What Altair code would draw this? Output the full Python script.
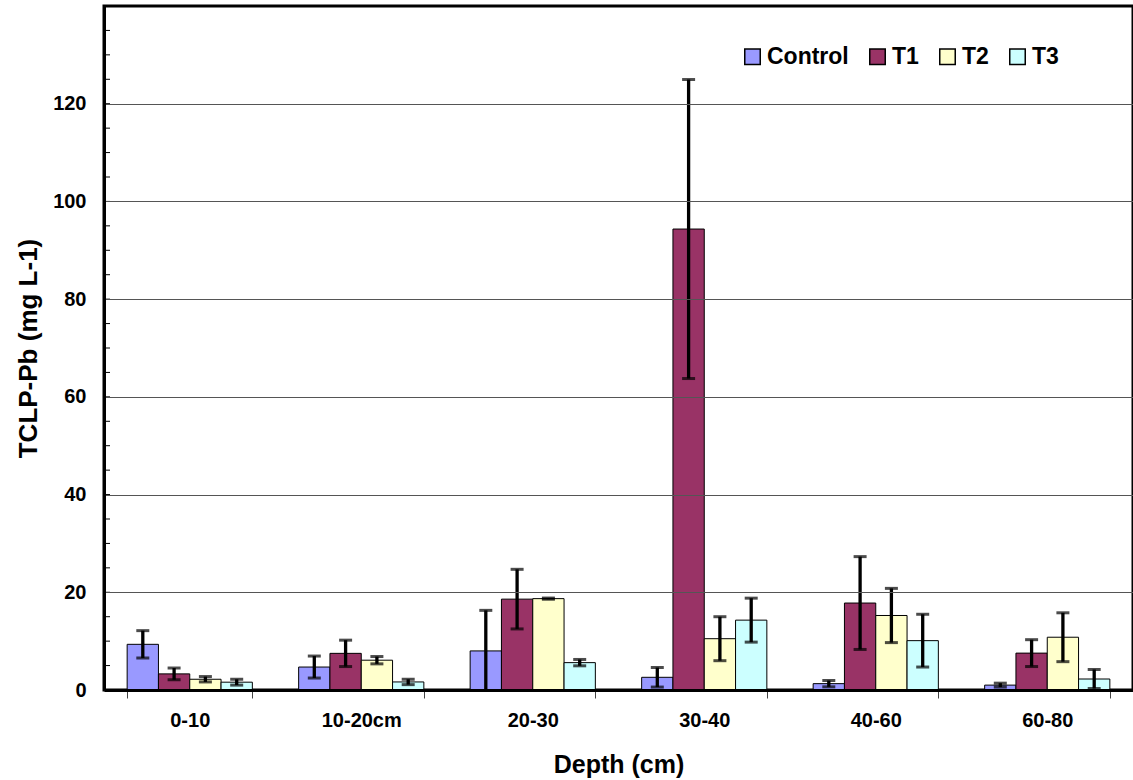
import altair as alt
import pandas as pd

depths = ["0-10", "10-20cm", "20-30", "30-40", "40-60", "60-80"]
treatments = ["Control", "T1", "T2", "T3"]
colors = ["#9999FF", "#993366", "#FFFFCC", "#CCFFFF"]

control_mean = [9.35, 4.7, 8.0, 2.6, 1.3, 1.0]
control_err = [2.8, 2.25, 8.3, 2.0, 0.65, 0.4]
t1_mean = [3.3, 7.5, 18.6, 94.35, 17.8, 7.55]
t1_err = [1.2, 2.7, 6.1, 30.6, 9.5, 2.75]
t2_mean = [2.2, 6.1, 18.7, 10.5, 15.25, 10.8]
t2_err = [0.55, 0.75, 0.12, 4.5, 5.55, 5.0]
t3_mean = [1.6, 1.65, 5.6, 14.3, 10.1, 2.25]
t3_err = [0.6, 0.55, 0.65, 4.5, 5.4, 1.95]

y_labels = [0, 20, 40, 60, 80, 100, 120]
minor_ticks = list(range(0, 141, 5))

means = [control_mean, t1_mean, t2_mean, t3_mean]
errs = [control_err, t1_err, t2_err, t3_err]
rows = []
for ti, t in enumerate(treatments):
    for di, d in enumerate(depths):
        rows.append({"depth": d, "treatment": t, "mean": means[ti][di], "err": errs[ti][di]})
df = pd.DataFrame(rows)

FONT = "Liberation Sans"

xscale = alt.Scale(domain=depths, paddingInner=0.27, paddingOuter=0.135)
yscale = alt.Scale(domain=[0, 140], nice=False, zero=True)
offscale = alt.Scale(domain=treatments, paddingInner=0, paddingOuter=0)

base = alt.Chart(df)

bars = base.mark_bar(stroke="black", strokeWidth=1).encode(
    x=alt.X("depth:N", scale=xscale, sort=depths,
            axis=alt.Axis(title="Depth (cm)", labelAngle=0, tickBand="extent",
                          tickSize=8, tickColor="#444", tickWidth=1,
                          domainColor="black", domainWidth=3,
                          labelFont=FONT, labelFontSize=20, labelFontWeight="bold",
                          labelColor="black", labelPadding=12,
                          titleFont=FONT, titleFontSize=25, titleFontWeight="bold",
                          titleColor="black", titlePadding=22, zindex=1)),
    xOffset=alt.XOffset("treatment:N", scale=offscale, sort=treatments),
    y=alt.Y("mean:Q", scale=yscale,
            axis=alt.Axis(title="TCLP-Pb (mg L-1)", values=y_labels,
                          grid=True, gridColor="#555", gridWidth=1,
                          ticks=False, domainColor="black", domainWidth=3,
                          labelFont=FONT, labelFontSize=20, labelFontWeight="bold",
                          labelColor="black", labelPadding=18,
                          titleFont=FONT, titleFontSize=26, titleFontWeight="bold",
                          titleColor="black", titlePadding=11, zindex=1)),
    color=alt.Color("treatment:N", scale=alt.Scale(domain=treatments, range=colors),
                    legend=alt.Legend(title=None, orient="none", direction="horizontal",
                                      legendX=637, legendY=39,
                                      symbolType="square", symbolSize=240,
                                      symbolStrokeColor="black", symbolStrokeWidth=1.5,
                                      labelFont=FONT, labelFontSize=23, labelFontWeight="bold",
                                      labelColor="black", labelOffset=3, columnPadding=17)),
)

errdf = base.transform_calculate(lo="datum.mean - datum.err", hi="datum.mean + datum.err")

rules = errdf.mark_rule(color="black", strokeWidth=3.3, clip=True).encode(
    x=alt.X("depth:N", scale=xscale, sort=depths),
    xOffset=alt.XOffset("treatment:N", scale=offscale, sort=treatments),
    y=alt.Y("lo:Q", scale=yscale),
    y2="hi:Q",
)

caps_hi = errdf.mark_tick(color="black", thickness=3, size=13, orient="horizontal", clip=True).encode(
    x=alt.X("depth:N", scale=xscale, sort=depths),
    xOffset=alt.XOffset("treatment:N", scale=offscale, sort=treatments),
    y=alt.Y("hi:Q", scale=yscale),
)
caps_lo = errdf.mark_tick(color="black", thickness=3, size=13, orient="horizontal", clip=True).encode(
    x=alt.X("depth:N", scale=xscale, sort=depths),
    xOffset=alt.XOffset("treatment:N", scale=offscale, sort=treatments),
    y=alt.Y("lo:Q", scale=yscale),
)

ticks = alt.Chart(pd.DataFrame({"v": minor_ticks})).mark_rule(color="black", strokeWidth=1).encode(
    x=alt.value(1), x2=alt.value(6),
    y=alt.Y("v:Q", scale=yscale),
)

chart = alt.layer(bars, rules, caps_hi, caps_lo, ticks).properties(
    width=1029, height=684,
    autosize=alt.AutoSizeParams(type="none"),
    padding={"left": 104, "top": 6, "right": 0, "bottom": 90},
    background="white",
).configure_view(stroke="black", strokeWidth=3)

chart.save("out.html", embed_options={"renderer": "svg", "actions": False})
